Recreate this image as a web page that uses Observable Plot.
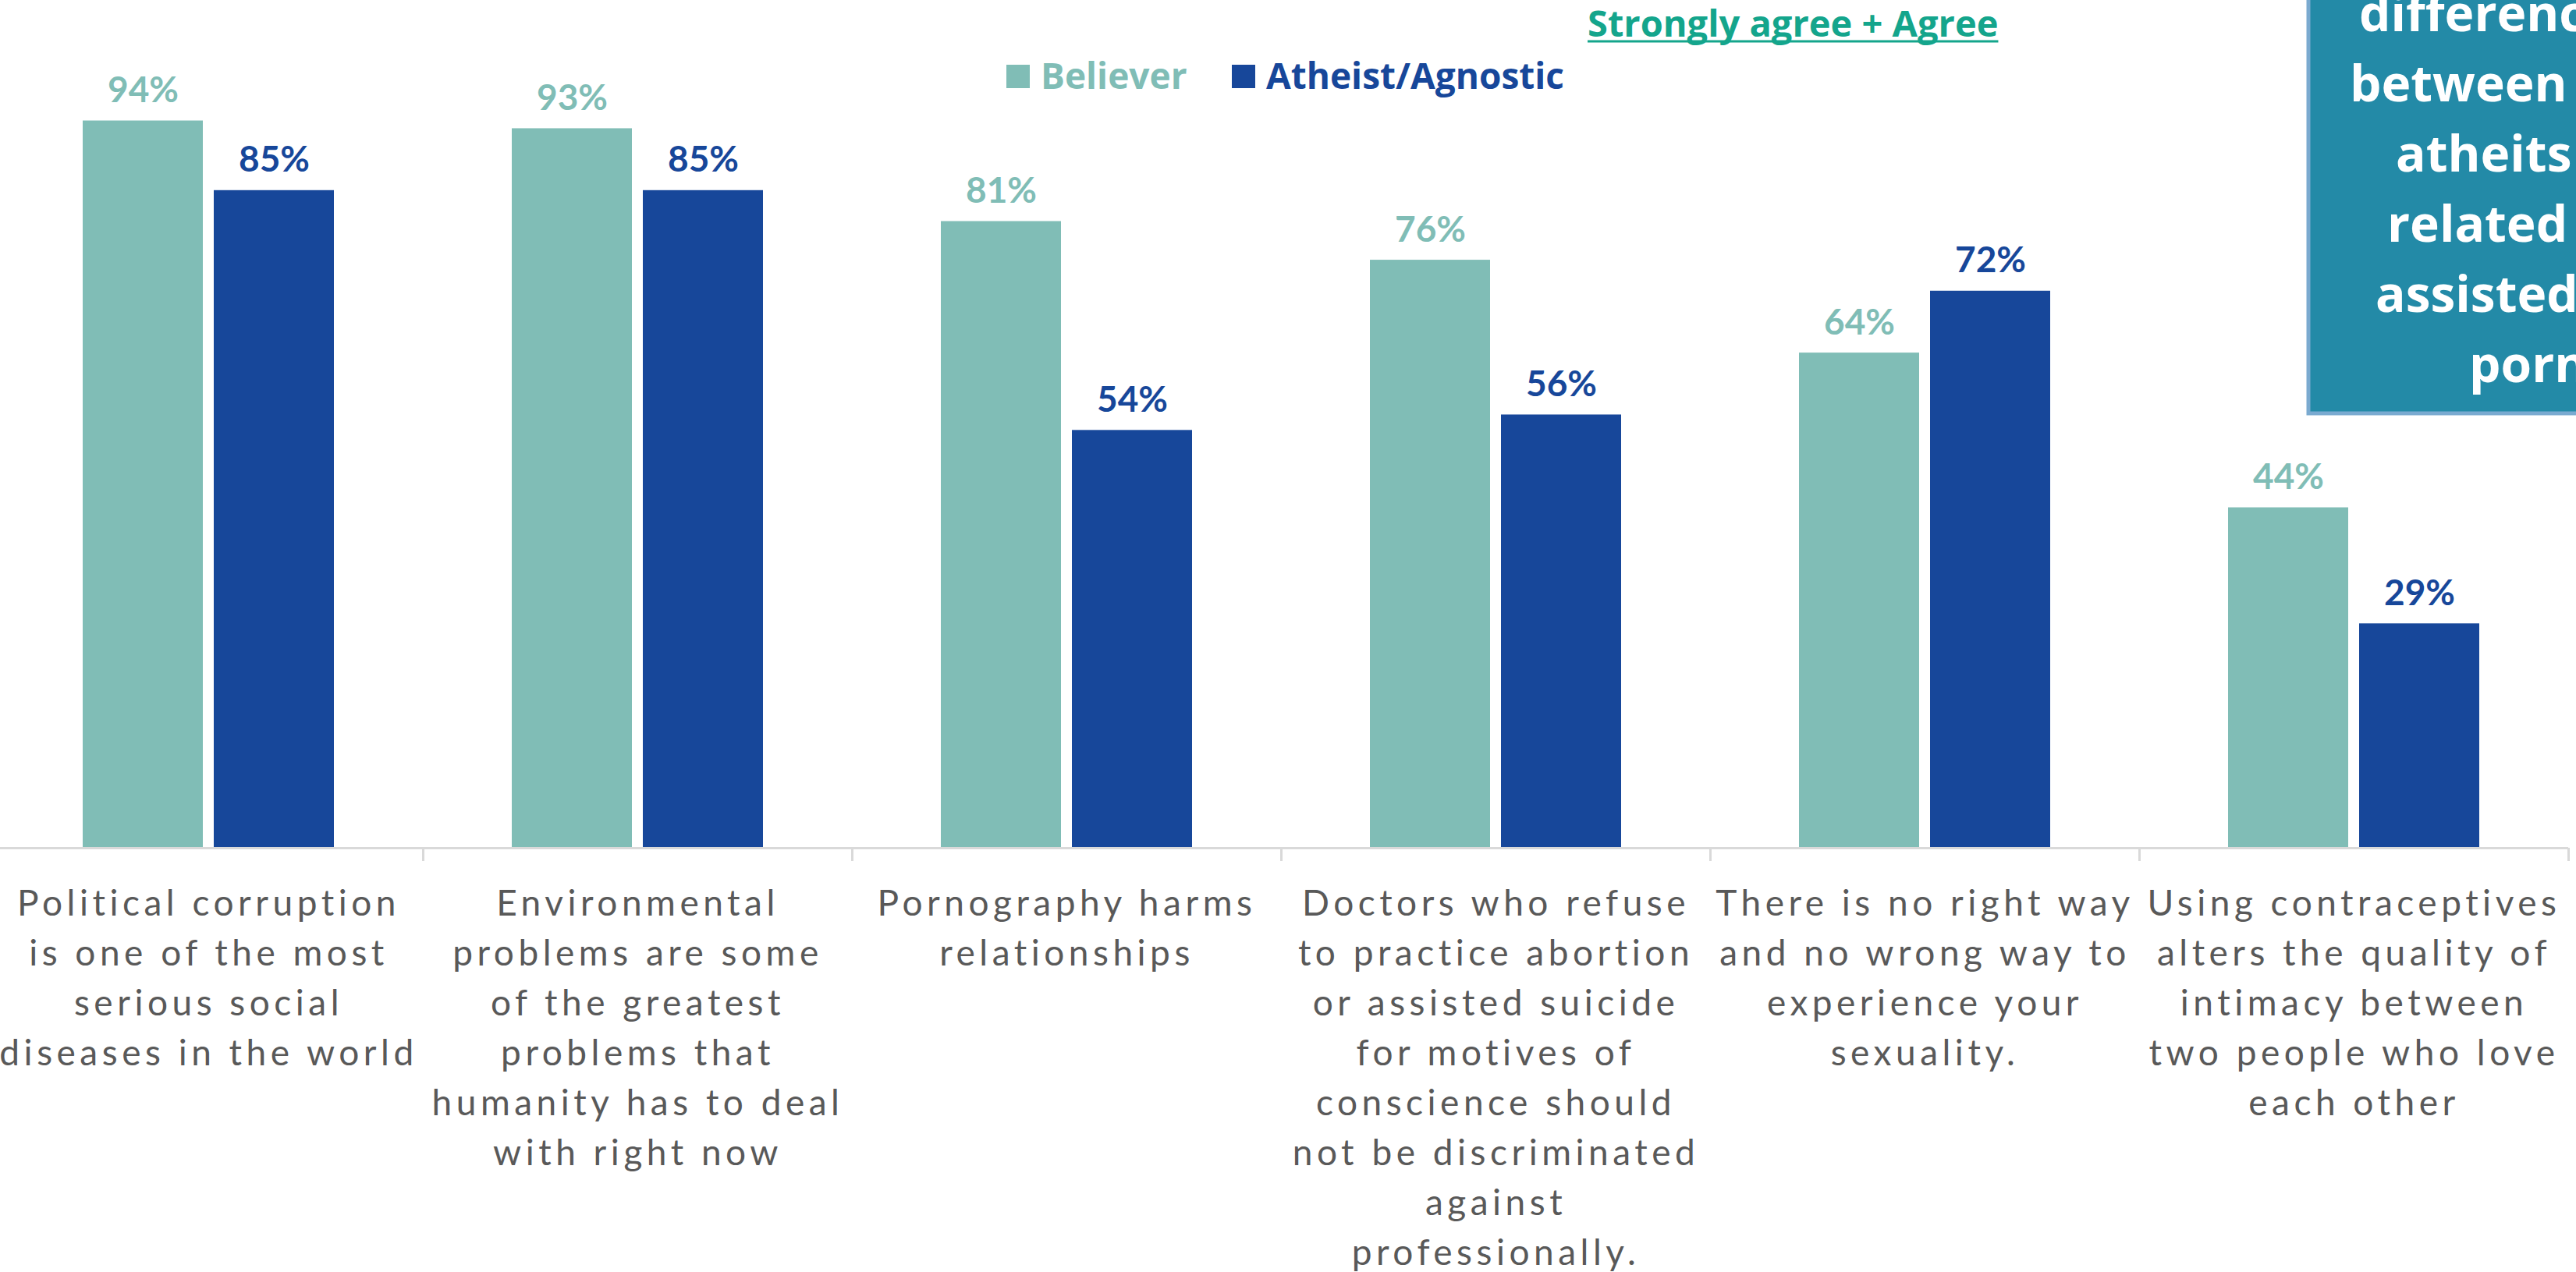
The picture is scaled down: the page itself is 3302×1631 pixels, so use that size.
<!DOCTYPE html>
<html>
<head>
<meta charset="utf-8">
<script src="https://cdn.jsdelivr.net/npm/d3@7"></script>
<script src="https://cdn.jsdelivr.net/npm/@observablehq/plot@0.6"></script>
<style>
  html, body { margin: 0; padding: 0; background: #ffffff; }
  #wrap { position: relative; width: 3302px; height: 1631px; overflow: hidden; }
  #wrap > svg { position: absolute; left: 0; top: 0; }
  g[font-family="Lato, sans-serif"] text { letter-spacing: 5.5px; }
</style>
</head>
<body>
<div id="wrap"></div>
<script>
// ---------- data ----------
const categories = [
  "Political corruption",
  "Environmental problems",
  "Pornography harms relationships",
  "Doctors who refuse",
  "No right way",
  "Using contraceptives"
];
const categoryLines = [
  ["Political corruption", "is one of the most", "serious social", "diseases in the world"],
  ["Environmental", "problems are some", "of the greatest", "problems that", "humanity has to deal", "with right now"],
  ["Pornography harms", "relationships"],
  ["Doctors who refuse", "to practice abortion", "or assisted suicide", "for motives of", "conscience should", "not be discriminated", "against", "professionally."],
  ["There is no right way", "and no wrong way to", "experience your", "sexuality."],
  ["Using contraceptives", "alters the quality of", "intimacy between", "two people who love", "each other"]
];
const series = ["Believer", "Atheist/Agnostic"];
const believerValues = [94, 93, 81, 76, 64, 44];
const atheistValues = [85, 85, 54, 56, 72, 29];
const seriesColors = ["#80bdb6", "#17479a"];
const titleText = "Strongly agree + Agree";
const calloutLines = ["differenc", "between", "atheits", "related", "assisted", "porn"];

// ---------- table ----------
const rows = [];
categories.forEach((c, i) => {
  rows.push({category: c, series: series[0], value: believerValues[i]});
  rows.push({category: c, series: series[1], value: atheistValues[i]});
});
const labelRows = categories.map((c, i) => ({category: c, text: categoryLines[i].join("\n")}));
const B = rows.filter(d => d.series === series[0]);
const A = rows.filter(d => d.series === series[1]);

const chart = Plot.plot({
  width: 3302,
  height: 1631,
  marginLeft: 0,
  marginRight: 10,
  marginTop: 95,
  marginBottom: 544,
  x: {domain: categories, range: [-7, 3292], paddingInner: 0.4145, paddingOuter: 0.206, axis: null},
  y: {domain: [0, 100], axis: null},
  color: {domain: series, range: seriesColors},
  style: {background: "#ffffff", fontFamily: "Lato"},
  marks: [
    Plot.barY(B, {x: "category", y: "value", fill: "series", insetRight: 168}),
    Plot.barY(A, {x: "category", y: "value", fill: "series", insetLeft: 168}),
    Plot.ruleY([0], {stroke: "#d9d9d9", strokeWidth: 3}),
    Plot.ruleX(categories, {x: d => d, y1: 0, y2: 0, insetBottom: -17, dx: -275, stroke: "#d9d9d9", strokeWidth: 3}),
    Plot.ruleX(categories.slice(-1), {x: d => d, y1: 0, y2: 0, insetBottom: -17, dx: 275, stroke: "#d9d9d9", strokeWidth: 3}),
    Plot.text(B, {x: "category", y: "value", text: d => d.value + "%", fill: "series", dx: -84, dy: -24, lineAnchor: "bottom", fontSize: 46, fontWeight: "bold", fontFamily: "Lato"}),
    Plot.text(A, {x: "category", y: "value", text: d => d.value + "%", fill: "series", dx: 84, dy: -24, lineAnchor: "bottom", fontSize: 46, fontWeight: "bold", fontFamily: "Lato"}),
    Plot.text(labelRows, {x: "category", y: 0, text: "text", dy: 41, lineAnchor: "top", lineHeight: 1.3913, fontSize: 46, fill: "#595959", fontFamily: "Lato, sans-serif"})
  ]
});

const wrap = document.getElementById("wrap");
wrap.appendChild(chart);

// ---------- overlay: title, legend, callout ----------
const ov = d3.select(wrap).append("svg")
  .attr("width", 3302).attr("height", 1631)
  .style("pointer-events", "none");

// title
const t = ov.append("text")
  .attr("x", 2035).attr("y", 47)
  .attr("font-family", "Open Sans").attr("font-weight", "bold").attr("font-size", 47)
  .attr("fill", "#14a58c")
  .text(titleText);
const tw = t.node().getComputedTextLength();
ov.append("line").attr("x1", 2035).attr("x2", 2035 + tw).attr("y1", 53).attr("y2", 53)
  .attr("stroke", "#14a58c").attr("stroke-width", 3);

// legend
const legendX = [1290, 1579];
series.forEach((s, i) => {
  ov.append("rect").attr("x", legendX[i]).attr("y", 83).attr("width", 30).attr("height", 30).attr("fill", seriesColors[i]);
  ov.append("text").attr("x", legendX[i] + 44).attr("y", 114)
    .attr("font-family", "Open Sans").attr("font-weight", "bold").attr("font-size", 46)
    .attr("fill", seriesColors[i]).text(s);
});

// callout box
ov.append("rect").attr("x", 2959).attr("y", -10).attr("width", 400).attr("height", 540)
  .attr("fill", "#238aa7").attr("stroke", "#7aaad0").attr("stroke-width", 5);
const calloutX = [3024, 3012, 3071, 3060, 3045, 3165];
calloutLines.forEach((l, i) => {
  ov.append("text").attr("x", calloutX[i]).attr("y", 40 + 90 * i)
    .attr("font-family", "Open Sans").attr("font-weight", "bold").attr("font-size", 64)
    .attr("fill", "#ffffff").text(l);
});
</script>
</body>
</html>
